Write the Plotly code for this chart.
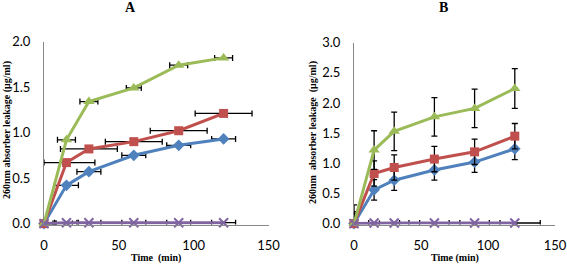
import plotly.graph_objects as go

time = [0, 15, 30, 60, 90, 120]

# Panel A values (µg/ml)
a_blue = [0, 0.42, 0.57, 0.75, 0.86, 0.93]
a_red = [0, 0.67, 0.82, 0.90, 1.02, 1.21]
a_green = [0, 0.92, 1.34, 1.49, 1.74, 1.82]
a_purple = [0, 0.01, 0.01, 0.01, 0.01, 0.01]
# Panel A horizontal error (min)
a_blue_ex = [8, 8, 8, 8, 8, 8]
a_red_ex = [19, 19, 19, 19, 19, 19]
a_red_exm = [19, 15, 19, 19, 19, 19]
a_green_ex = [6, 6, 6, 5, 6, 6]
a_purple_ex = [8, 8, 8, 8, 8, 8]

# Panel B values (µg/ml)
b_blue = [0, 0.56, 0.72, 0.89, 1.02, 1.24]
b_red = [0, 0.83, 0.93, 1.07, 1.19, 1.45]
b_green = [0, 1.22, 1.53, 1.77, 1.91, 2.24]
b_purple = [0, 0.01, 0.01, 0.01, 0.01, 0.01]
# Panel B vertical error (µg/ml) and purple horizontal error (min)
b_blue_ey = [0.17, 0.17, 0.17, 0.17, 0.17, 0.18]
b_red_ey = [0.2, 0.21, 0.21, 0.21, 0.21, 0.21]
b_green_ey = [0.31, 0.32, 0.32, 0.32, 0.32, 0.33]
b_purple_ex = [19, 19, 19, 19, 19, 19]

BLUE = "#4F81BD"
RED = "#C0504D"
GREEN = "#9BBB59"
PURPLE = "#8064A2"

fig = go.Figure()

def add_series(x, y, color, symbol, size, xa, ya, ex=None, exm=None, ey=None, line_w=3):
    kw = {}
    if ex is not None:
        kw["error_x"] = dict(type="data", array=ex, arrayminus=exm if exm is not None else ex,
                             symmetric=exm is None, color="black", thickness=1.3, width=3)
    if ey is not None:
        kw["error_y"] = dict(type="data", array=ey, color="black", thickness=1.3, width=3)
    fig.add_trace(go.Scatter(x=x, y=y, mode="lines", line=dict(color=color, width=line_w),
                             xaxis=xa, yaxis=ya, cliponaxis=True, showlegend=False,
                             hoverinfo="skip", **kw))
    if symbol == "x-thin":
        marker = dict(symbol=symbol, size=size, color=color, line=dict(color=color, width=2))
    else:
        marker = dict(symbol=symbol, size=size, color=color, line=dict(width=0))
    fig.add_trace(go.Scatter(x=x, y=y, mode="markers", marker=marker,
                             xaxis=xa, yaxis=ya, cliponaxis=False, showlegend=False))

# Panel A
add_series(time, a_blue, BLUE, "diamond", 9, "x", "y", ex=a_blue_ex)
add_series(time, a_red, RED, "square", 9, "x", "y", ex=a_red_ex, exm=a_red_exm)
add_series(time, a_green, GREEN, "triangle-up", 10, "x", "y", ex=a_green_ex)
add_series(time, a_purple, PURPLE, "x-thin", 9, "x", "y", ex=a_purple_ex)

# Panel B
add_series(time, b_blue, BLUE, "diamond", 9, "x2", "y2", ey=b_blue_ey)
add_series(time, b_red, RED, "square", 9, "x2", "y2", ey=b_red_ey)
add_series(time, b_green, GREEN, "triangle-up", 10, "x2", "y2", ey=b_green_ey)
add_series(time, b_purple, PURPLE, "x-thin", 9, "x2", "y2", ex=b_purple_ex)

W, H = 567, 267
tickfont = dict(family="Lato, Liberation Sans, sans-serif", size=13, color="#000000")
axis_common = dict(showgrid=False, zeroline=False, showline=True, linecolor="#888888",
                   linewidth=1, ticks="", tickfont=tickfont, fixedrange=True, automargin=False,
                   ticklabeloverflow="allow")

fig.update_layout(
    width=W, height=H,
    margin=dict(l=0, r=0, t=0, b=0, pad=0, autoexpand=False),
    paper_bgcolor="white", plot_bgcolor="white",
    xaxis=dict(domain=[44 / W, 268.5 / W], range=[0, 150], tickvals=[0, 50, 100, 150],
               anchor="y", ticklabelstandoff=9, **axis_common),
    yaxis=dict(domain=[(H - 224.5) / H, (H - 41.5) / H], range=[-0.01, 2.0],
               tickvals=[0, 0.5, 1.0, 1.5, 2.0], ticktext=["0.0", "0.5", "1.0", "1.5", "2.0"],
               anchor="x", ticklabelstandoff=10, **axis_common),
    xaxis2=dict(domain=[354 / W, 555 / W], range=[0, 150], tickvals=[0, 50, 100, 150],
                anchor="y2", ticklabelstandoff=9, **axis_common),
    yaxis2=dict(domain=[(H - 224.5) / H, (H - 42.7) / H], range=[-0.015, 3.0],
                tickvals=[0, 0.5, 1.0, 1.5, 2.0, 2.5, 3.0],
                ticktext=["0.0", "0.5", "1.0", "1.5", "2.0", "2.5", "3.0"],
                anchor="x2", ticklabelstandoff=10, **axis_common),
)

title_font = dict(family="Liberation Serif, Times New Roman, serif", size=10, color="#000000")
anns = [
    dict(text="<b>A</b>", x=130, y=8, font=dict(family="Liberation Serif, serif", size=14, color="#000")),
    dict(text="<b>B</b>", x=443, y=8, font=dict(family="Liberation Serif, serif", size=14, color="#000")),
    dict(text="<b>Time  (min)</b>", x=156, y=258, font=title_font),
    dict(text="<b>Time (min)</b>", x=455, y=258, font=title_font),
    dict(text="<b>260nm absorber leakage (μg/ml)</b>", x=7, y=130, textangle=-90, font=title_font),
    dict(text="<b>260nm  absorber leakage  (μg/ml)</b>", x=313, y=133, textangle=-90, font=title_font),
]
for a in anns:
    fig.add_annotation(xref="paper", yref="paper", x=a["x"] / W, y=1 - a["y"] / H,
                       text=a["text"], showarrow=False, font=a["font"],
                       textangle=a.get("textangle", 0), xanchor="center", yanchor="middle")

fig.write_html("out.html", config={"displayModeBar": False},
               post_script="document.body.style.margin='0';document.body.style.overflow='hidden';")
